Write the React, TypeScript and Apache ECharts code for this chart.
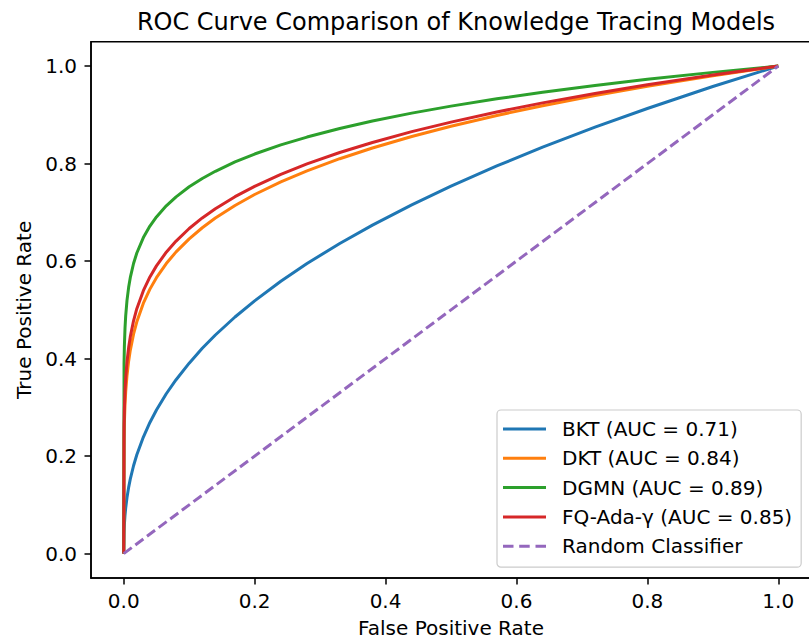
import React, { useEffect, useRef } from "react";
import * as echarts from "echarts";

const fpr = [0, 0.0005, 0.001, 0.002, 0.003, 0.005, 0.0075, 0.01, 0.015, 0.02, 0.03, 0.04, 0.05, 0.065, 0.08, 0.1, 0.12, 0.14, 0.17, 0.2, 0.24, 0.28, 0.33, 0.38, 0.44, 0.5, 0.57, 0.64, 0.72, 0.8, 0.9, 1.0];
const tprBKT = [0, 0.045, 0.0597, 0.0792, 0.0935, 0.1151, 0.1359, 0.1528, 0.1802, 0.2027, 0.2391, 0.269, 0.2946, 0.3279, 0.3567, 0.3906, 0.4211, 0.4484, 0.4853, 0.5185, 0.5588, 0.5951, 0.6361, 0.6737, 0.7153, 0.7536, 0.7951, 0.8336, 0.8746, 0.913, 0.9581, 1.0];
const tprDKT = [0, 0.236, 0.2691, 0.307, 0.3317, 0.3654, 0.3947, 0.4169, 0.4502, 0.4756, 0.5136, 0.5425, 0.566, 0.595, 0.6189, 0.6456, 0.6684, 0.6883, 0.7141, 0.7366, 0.7626, 0.7851, 0.81, 0.832, 0.8556, 0.8766, 0.8987, 0.9188, 0.9395, 0.9585, 0.9802, 1.0];
const tprDGMN = [0, 0.3909, 0.4258, 0.4639, 0.4877, 0.5195, 0.5462, 0.566, 0.5951, 0.6166, 0.6482, 0.6718, 0.6905, 0.7133, 0.7318, 0.7524, 0.7695, 0.7842, 0.8033, 0.8196, 0.8383, 0.8544, 0.8719, 0.8873, 0.9035, 0.9179, 0.9329, 0.9464, 0.9601, 0.9728, 0.9871, 1.0];
const tprFQ = [0, 0.2624, 0.2965, 0.3349, 0.3597, 0.3936, 0.4226, 0.4446, 0.4775, 0.5023, 0.5394, 0.5675, 0.5902, 0.6182, 0.6411, 0.6668, 0.6886, 0.7075, 0.7321, 0.7534, 0.7779, 0.7993, 0.8227, 0.8433, 0.8655, 0.8851, 0.9058, 0.9245, 0.9438, 0.9615, 0.9817, 1.0];
const randomX = [0, 1];
const randomY = [0, 1];

const seriesNames = ["BKT (AUC = 0.71)", "DKT (AUC = 0.84)", "DGMN (AUC = 0.89)", "FQ-Ada-γ (AUC = 0.85)", "Random Classifier"];
const colors = ["#1f77b4", "#ff7f0e", "#2ca02c", "#d62728", "#9467bd"];
const tickValues = [0, 0.2, 0.4, 0.6, 0.8, 1.0];

const FONT = "DejaVu Sans";
const LW = 3;

function pairs(xs: number[], ys: number[]) {
  return xs.map((x, i) => [x, ys[i]]);
}

export default function App() {
  const ref = useRef<HTMLDivElement>(null);
  useEffect(() => {
    if (!ref.current) return;
    const chart = echarts.init(ref.current, null, { renderer: "svg" });
    const curves = [tprBKT, tprDKT, tprDGMN, tprFQ];
    const series: any[] = curves.map((ys, i) => ({
      name: seriesNames[i],
      type: "line",
      data: pairs(fpr, ys),
      showSymbol: false,
      symbol: "none",
      lineStyle: { color: colors[i], width: LW, join: "round" },
      itemStyle: { color: colors[i] },
      z: 2 + i,
    }));
    series.push({
      name: seriesNames[4],
      type: "line",
      data: pairs(randomX, randomY),
      showSymbol: false,
      symbol: "none",
      lineStyle: { color: colors[4], width: LW, type: [10, 4.5] },
      itemStyle: { color: colors[4] },
      z: 7,
    });
    const axisCommon = {
      type: "value",
      min: -0.05,
      max: 1.05,
      splitLine: { show: false },
      axisLine: { show: true, onZero: false, lineStyle: { color: "#000", width: 1.5 } },
      axisTick: { show: true, length: 6.5, customValues: tickValues, lineStyle: { color: "#000", width: 1.5 } },
      nameLocation: "middle",
      nameTextStyle: { fontFamily: FONT, fontSize: 20, color: "#000" },
    };
    const legendData = seriesNames.map((name, i) => ({
      name,
      icon: i < 4 ? "rect" : "path://M0,0h10.5v3h-10.5z M16.2,0h10.5v3h-10.5z M32.5,0h10.5v3h-10.5z",
    }));
    chart.setOption({
      animation: false,
      title: {
        text: "ROC Curve Comparison of Knowledge Tracing Models",
        left: 451,
        textAlign: "center",
        top: 5,
        textStyle: { fontFamily: FONT, fontSize: 24, fontWeight: "normal", color: "#000" },
      },
      grid: {
        left: 91,
        top: 41.7,
        right: -2,
        bottom: 62,
        outerBoundsMode: "none",
        containLabel: false,
        show: true,
        borderColor: "#000",
        borderWidth: 1.5,
        backgroundColor: "#fff",
      },
      xAxis: {
        ...axisCommon,
        name: "False Positive Rate",
        nameGap: 40,
        axisLabel: {
          customValues: tickValues,
          formatter: (v: number) => v.toFixed(1),
          fontFamily: FONT,
          fontSize: 20,
          color: "#000",
          margin: 13,
        },
      },
      yAxis: {
        ...axisCommon,
        name: "True Positive Rate",
        nameGap: 56,
        axisLabel: {
          customValues: tickValues,
          formatter: (v: number) => v.toFixed(1),
          fontFamily: FONT,
          fontSize: 20,
          color: "#000",
          margin: 14,
        },
      },
      legend: {
        orient: "vertical",
        left: 497,
        top: 410,
        padding: [9, 9, 11, 6],
        itemGap: 9.3,
        itemWidth: 43,
        itemHeight: 3,
        backgroundColor: "#fff",
        borderColor: "#cccccc",
        borderWidth: 1.2,
        borderRadius: 4,
        textStyle: { fontFamily: FONT, fontSize: 20, color: "#000", padding: [0, 0, 0, 11] },
        data: legendData,
      },
      series,
    });
    return () => chart.dispose();
  }, []);
  return <div ref={ref} style={{ position: "absolute", left: 0, top: 0, width: 809, height: 640 }} />;
}
